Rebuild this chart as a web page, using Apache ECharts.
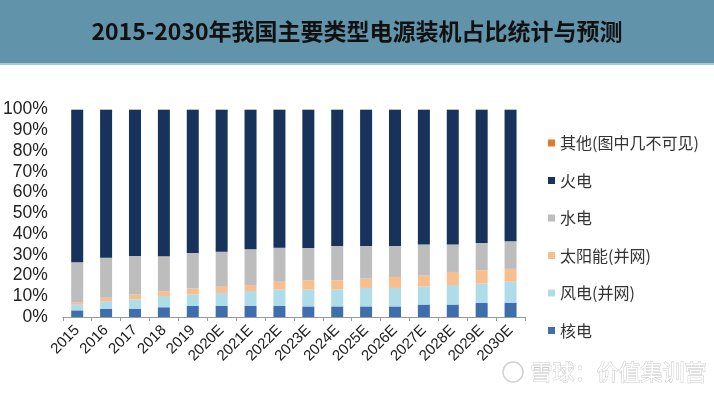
<!DOCTYPE html>
<html>
<head>
<meta charset="utf-8">
<script src="https://cdn.jsdelivr.net/npm/echarts@6/dist/echarts.min.js"></script>
<style>
html,body{margin:0;padding:0;background:#fff;}
#main{width:714px;height:394px;}
</style>
</head>
<body>
<div id="main"></div>
<script>
var titleText = '2015-2030年我国主要类型电源装机占比统计与预测';
var categories = ['2015','2016','2017','2018','2019','2020E','2021E','2022E','2023E','2024E','2025E','2026E','2027E','2028E','2029E','2030E'];
var yTicks = [0,10,20,30,40,50,60,70,80,90,100];
var nuclear = [3.2,4.0,4.0,4.7,5.3,5.3,5.3,5.3,5.1,5.1,5.1,5.1,6.0,6.0,6.9,6.9];
var wind    = [2.7,3.6,4.5,5.4,5.5,6.3,7.2,7.9,8.1,8.1,8.9,8.9,8.6,9.4,9.3,10.1];
var solar   = [1.0,1.7,2.3,2.3,3.0,3.0,2.9,3.8,4.5,4.5,4.5,5.3,5.3,6.3,6.3,6.2];
var hydro   = [19.5,19.3,18.6,16.9,17.1,16.9,17.2,16.4,15.6,16.5,15.7,14.9,15.0,13.2,13.2,13.3];
var thermal = [73.5,71.3,70.5,70.6,69.0,68.4,67.3,66.5,66.6,65.7,65.7,65.7,65.0,65.0,64.2,63.4];
var other   = [0.1,0.1,0.1,0.1,0.1,0.1,0.1,0.1,0.1,0.1,0.1,0.1,0.1,0.1,0.1,0.1];
var seriesNames = ['核电','风电(并网)','太阳能(并网)','水电','火电','其他(图中几不可见)'];
var legendOrder = ['其他(图中几不可见)','火电','水电','太阳能(并网)','风电(并网)','核电'];

var colors = ['#3F6EAE','#AEDCE8','#F8BE8E','#BDBDBD','#17335C','#E07B2E'];
var dataList = [nuclear, wind, solar, hydro, thermal, other];

var chart = echarts.init(document.getElementById('main'), null, {renderer:'canvas'});
var series = seriesNames.map(function(n,i){
  return {
    name:n, type:'bar', stack:'total', barWidth:12,
    data:dataList[i],
    itemStyle:{color:colors[i]},
    emphasis:{disabled:true}
  };
});
chart.setOption({
  animation:false,
  backgroundColor:'#ffffff',
  graphic:[
    {type:'rect', shape:{x:0,y:0,width:714,height:63}, style:{fill:'#6194AA'}, z:0},
    {type:'rect', shape:{x:0,y:63,width:714,height:2}, style:{fill:'#A8C8D5'}, z:0},
    {type:'text', left:'center', top:20, z:10,
      style:{text:titleText, fill:'#111', font:'bold 23px "Noto Sans CJK SC", "DejaVu Serif"'}},
    {type:'circle', shape:{cx:513,cy:372,r:10}, style:{fill:'none', stroke:'#d0d0d0', lineWidth:1.5}, z:10},
    {type:'text', left:530, top:360, z:10,
      style:{text:'雪球：价值集训营', fill:'#ffffff', stroke:'#c8c8c8', lineWidth:1, font:'22px "Noto Sans CJK SC"'}}
  ],
  grid:{left:60, right:189, top:109.5, bottom:77},
  legend:{
    data:legendOrder, orient:'vertical', left:543, top:130,
    itemWidth:7, itemHeight:7, itemGap:21.5, icon:'rect',
    textStyle:{fontSize:16, lineHeight:16, color:'#333', fontFamily:'"Noto Sans CJK SC"'},
    selectedMode:false
  },
  xAxis:{
    type:'category', data:categories,
    axisLine:{show:true, lineStyle:{color:'#999', width:1}},
    axisTick:{show:true, length:4, lineStyle:{color:'#999'}, alignWithLabel:false},
    axisLabel:{rotate:45, fontSize:15, color:'#222', margin:11, fontFamily:'"Liberation Sans", Arial', interval:0}
  },
  yAxis:{
    type:'value', min:yTicks[0], max:yTicks[yTicks.length-1], interval:10,
    axisLine:{show:false}, axisTick:{show:false}, splitLine:{show:false},
    axisLabel:{formatter:'{value}%', fontSize:17.5, color:'#222', margin:15, fontFamily:'"Liberation Sans", Arial'}
  },
  series:series
});
</script>
</body>
</html>
